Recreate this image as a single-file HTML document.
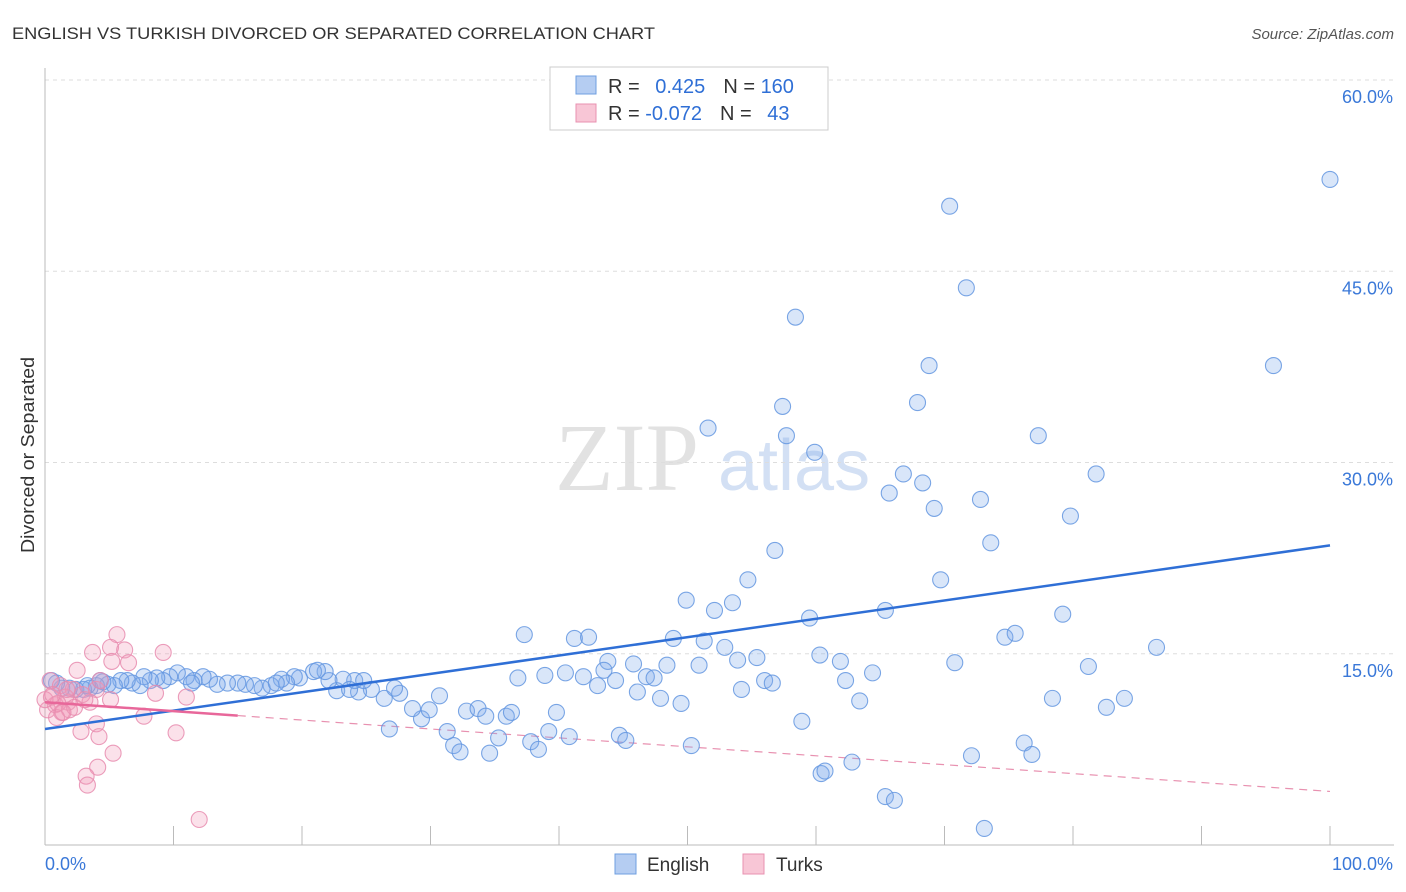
<!DOCTYPE html>
<html><head><meta charset="utf-8"><style>
body{margin:0;background:#fff;font-family:"Liberation Sans",sans-serif;}
svg{display:block}
</style></head><body>
<svg id="chart" width="1406" height="892" xmlns="http://www.w3.org/2000/svg">
<text x="12" y="39" font-size="17" fill="#333" textLength="643" lengthAdjust="spacingAndGlyphs">ENGLISH VS TURKISH DIVORCED OR SEPARATED CORRELATION CHART</text>
<text x="1394" y="39" font-size="15" fill="#555" text-anchor="end" font-style="italic">Source: ZipAtlas.com</text>
<g>
<text x="555" y="490" font-size="96" fill="#e2e2e2" font-family="Liberation Serif,serif">ZIP</text>
<text x="718" y="490" font-size="72" fill="#d3e0f4">atlas</text>
</g>
<g id="grid"></g>
<g id="axes"></g>
<text transform="translate(34,455) rotate(-90)" font-size="18" fill="#333" text-anchor="middle" textLength="196" lengthAdjust="spacingAndGlyphs">Divorced or Separated</text>
<g id="lines"></g>
<g id="pts"></g>
<g>
<rect x="550" y="67" width="278" height="63" fill="#fff" stroke="#ccc"/>
<rect x="576" y="76" width="20" height="18" fill="#b5cdf2" stroke="#6f9fe0"/>
<rect x="576" y="104" width="20" height="18" fill="#f8c6d6" stroke="#e891b0"/>
<text x="608" y="93" font-size="20" fill="#333">R = <tspan fill="#2f6fd6" dx="10">0.425</tspan><tspan dx="18">N = </tspan><tspan fill="#2f6fd6">160</tspan></text>
<text x="608" y="120" font-size="20" fill="#333">R = <tspan fill="#2f6fd6">-0.072</tspan><tspan dx="18">N = </tspan><tspan fill="#2f6fd6" dx="10">43</tspan></text>
</g>
<g>
<rect x="615" y="854" width="21" height="20" fill="#b5cdf2" stroke="#6f9fe0"/>
<text x="647" y="871" font-size="19" fill="#333">English</text>
<rect x="743" y="854" width="21" height="20" fill="#f8c6d6" stroke="#e891b0"/>
<text x="776" y="871" font-size="19" fill="#333">Turks</text>
</g>
</svg>
<script>
const yTicks=[15,30,45,60];
const yTickLabels=["15.0%","30.0%","45.0%","60.0%"];
const xTicks=[0,10,20,30,40,50,60,70,80,90,100];
const englishX=[100,70.4,71.7,58.4,95.6,68.8,57.4,67.9,51.6,57.7,77.3,59.9,66.8,81.8,68.3,65.7,72.8,69.2,79.8,73.6,56.8,54.7,69.7,49.9,53.5,52.1,59.5,65.4,79.2,37.3,41.2,42.3,48.9,51.3,74.7,75.5,52.9,86.5,43.8,45.8,48.4,50.9,53.9,55.4,60.3,61.9,70.8,81.2,64.4,43.5,40.5,36.8,38.9,41.9,43.0,44.4,46.8,47.4,62.3,56.0,56.6,54.2,46.1,47.9,49.5,63.4,78.4,84.0,82.6,58.9,39.8,39.2,40.8,44.7,45.2,50.3,37.8,38.4,35.3,31.8,32.3,34.6,26.8,29.3,29.9,31.3,32.8,33.7,34.3,35.9,36.3,28.6,30.7,27.6,26.4,25.4,24.4,27.2,24.1,24.8,23.2,22.7,23.7,22.1,21.8,20.9,21.2,19.8,19.4,18.8,18.4,17.6,16.9,16.3,15.6,15.0,14.2,13.4,12.8,12.3,11.6,11.0,10.3,9.7,9.2,8.7,8.2,7.7,7.4,6.8,6.4,5.9,5.4,4.9,4.5,4.0,3.5,3.0,2.4,1.9,1.3,0.9,0.5,3.3,4.3,11.4,18.0,60.4,60.7,62.8,65.4,66.1,72.1,73.1,76.2,76.8];
const englishY=[52.2,50.1,43.7,41.4,37.6,37.6,34.4,34.7,32.7,32.1,32.1,30.8,29.1,29.1,28.4,27.6,27.1,26.4,25.8,23.7,23.1,20.8,20.8,19.2,19.0,18.4,17.8,18.4,18.1,16.5,16.2,16.3,16.2,16.0,16.3,16.6,15.5,15.5,14.4,14.2,14.1,14.1,14.5,14.7,14.9,14.4,14.3,14.0,13.5,13.7,13.5,13.1,13.3,13.2,12.5,12.9,13.2,13.1,12.9,12.9,12.7,12.2,12.0,11.5,11.1,11.3,11.5,11.5,10.8,9.7,10.4,8.9,8.5,8.6,8.2,7.8,8.1,7.5,8.4,7.8,7.3,7.2,9.1,9.9,10.6,8.9,10.5,10.7,10.1,10.1,10.4,10.7,11.7,11.9,11.5,12.2,12.0,12.3,12.9,12.9,13.0,12.1,12.2,12.9,13.6,13.6,13.7,13.1,13.2,12.7,13.0,12.5,12.3,12.5,12.6,12.7,12.7,12.6,13.0,13.2,12.9,13.2,13.5,13.2,12.9,13.1,12.9,13.2,12.5,12.7,12.9,12.9,12.5,12.6,12.8,12.5,12.3,12.2,12.2,12.3,12.3,12.7,12.9,12.5,12.9,12.7,12.7,5.6,5.8,6.5,3.8,3.5,7.0,1.3,8.0,7.1];
const turksX=[5.6,5.1,6.2,9.2,3.7,5.2,6.5,2.5,0.4,1.2,2.2,2.9,4.0,4.3,8.6,11.0,3.5,1.8,0.8,0.2,1.3,1.9,0.9,7.7,4.0,2.8,10.2,4.2,5.3,4.1,3.2,3.3,12.0,0.5,1.6,2.3,1.0,3.1,1.4,0,5.1,0.6,1.7];
const turksY=[16.5,15.5,15.3,15.1,15.1,14.4,14.3,13.7,12.9,12.5,12.2,11.8,12.2,12.9,11.9,11.6,11.2,11.2,11.0,10.6,10.4,10.6,10.0,10.1,9.5,8.9,8.8,8.5,7.2,6.1,5.4,4.7,2.0,11.6,11.6,10.8,11.1,11.4,10.4,11.4,11.4,11.8,12.2];
const englishTrend=[9.1,23.5];
const turksTrend=[11.2,4.2];
const NS="http://www.w3.org/2000/svg";
const sx=v=>45+v*12.85, sy=v=>845-v*12.75;
function mk(tag,attrs,parent){const e=document.createElementNS(NS,tag);for(const k in attrs)e.setAttribute(k,attrs[k]);parent.appendChild(e);return e;}
const grid=document.getElementById('grid'),axes=document.getElementById('axes');
yTicks.forEach((t,i)=>{
 const l=mk('line',{x1:45,x2:1394,y1:sy(t),y2:sy(t),stroke:'#ddd','stroke-dasharray':'4,4'},grid);
 
 
 const tx=mk('text',{x:1393,y:sy(t)+23,'font-size':18,fill:'#3a78d8','text-anchor':'end'},axes);
 tx.textContent=yTickLabels[i];
 
 
});
const al=mk('line',{x1:45,x2:45,y1:68,y2:845,stroke:'#bbb'},axes);


const xl=mk('line',{x1:45,x2:1394,y1:845,y2:845,stroke:'#bbb'},axes);


xTicks.forEach(t=>{
 const l=mk('line',{x1:sx(t),x2:sx(t),y1:826,y2:845,stroke:'#bbb'},axes);
 
 
});
[['0.0%',45,'start'],['100.0%',1393,'end']].forEach(a=>{
 const tx=mk('text',{x:a[1],y:870,'font-size':18,fill:'#3a78d8','text-anchor':a[2]},axes);
 tx.textContent=a[0];
 
 
});
const pts=document.getElementById('pts');
englishX.forEach((x,i)=>{
 const c=mk('circle',{cx:sx(x),cy:sy(englishY[i]),r:8,fill:'rgba(130,172,235,0.3)',stroke:'rgba(100,150,225,0.85)','stroke-width':1.1},pts);
 
 
});
turksX.forEach((x,i)=>{
 const c=mk('circle',{cx:sx(x),cy:sy(turksY[i]),r:8,fill:'rgba(242,155,186,0.3)',stroke:'rgba(232,140,175,0.85)','stroke-width':1.1},pts);
 
 
});
const lines=document.getElementById('lines');
const bl=mk('line',{x1:sx(0),y1:sy(englishTrend[0]),x2:sx(100),y2:sy(englishTrend[1]),stroke:'#2f6fd6','stroke-width':2.5},pts);


const tAt=x=>turksTrend[0]+(turksTrend[1]-turksTrend[0])*x/100;
const pd=mk('line',{x1:sx(15),y1:sy(tAt(15)),x2:sx(100),y2:sy(tAt(100)),stroke:'#e891b0','stroke-width':1.2,'stroke-dasharray':'8,6'},lines);


const ps=mk('line',{x1:sx(0),y1:sy(tAt(0)),x2:sx(15),y2:sy(tAt(15)),stroke:'#e8679a','stroke-width':2.5},pts);


</script>
</body></html>
